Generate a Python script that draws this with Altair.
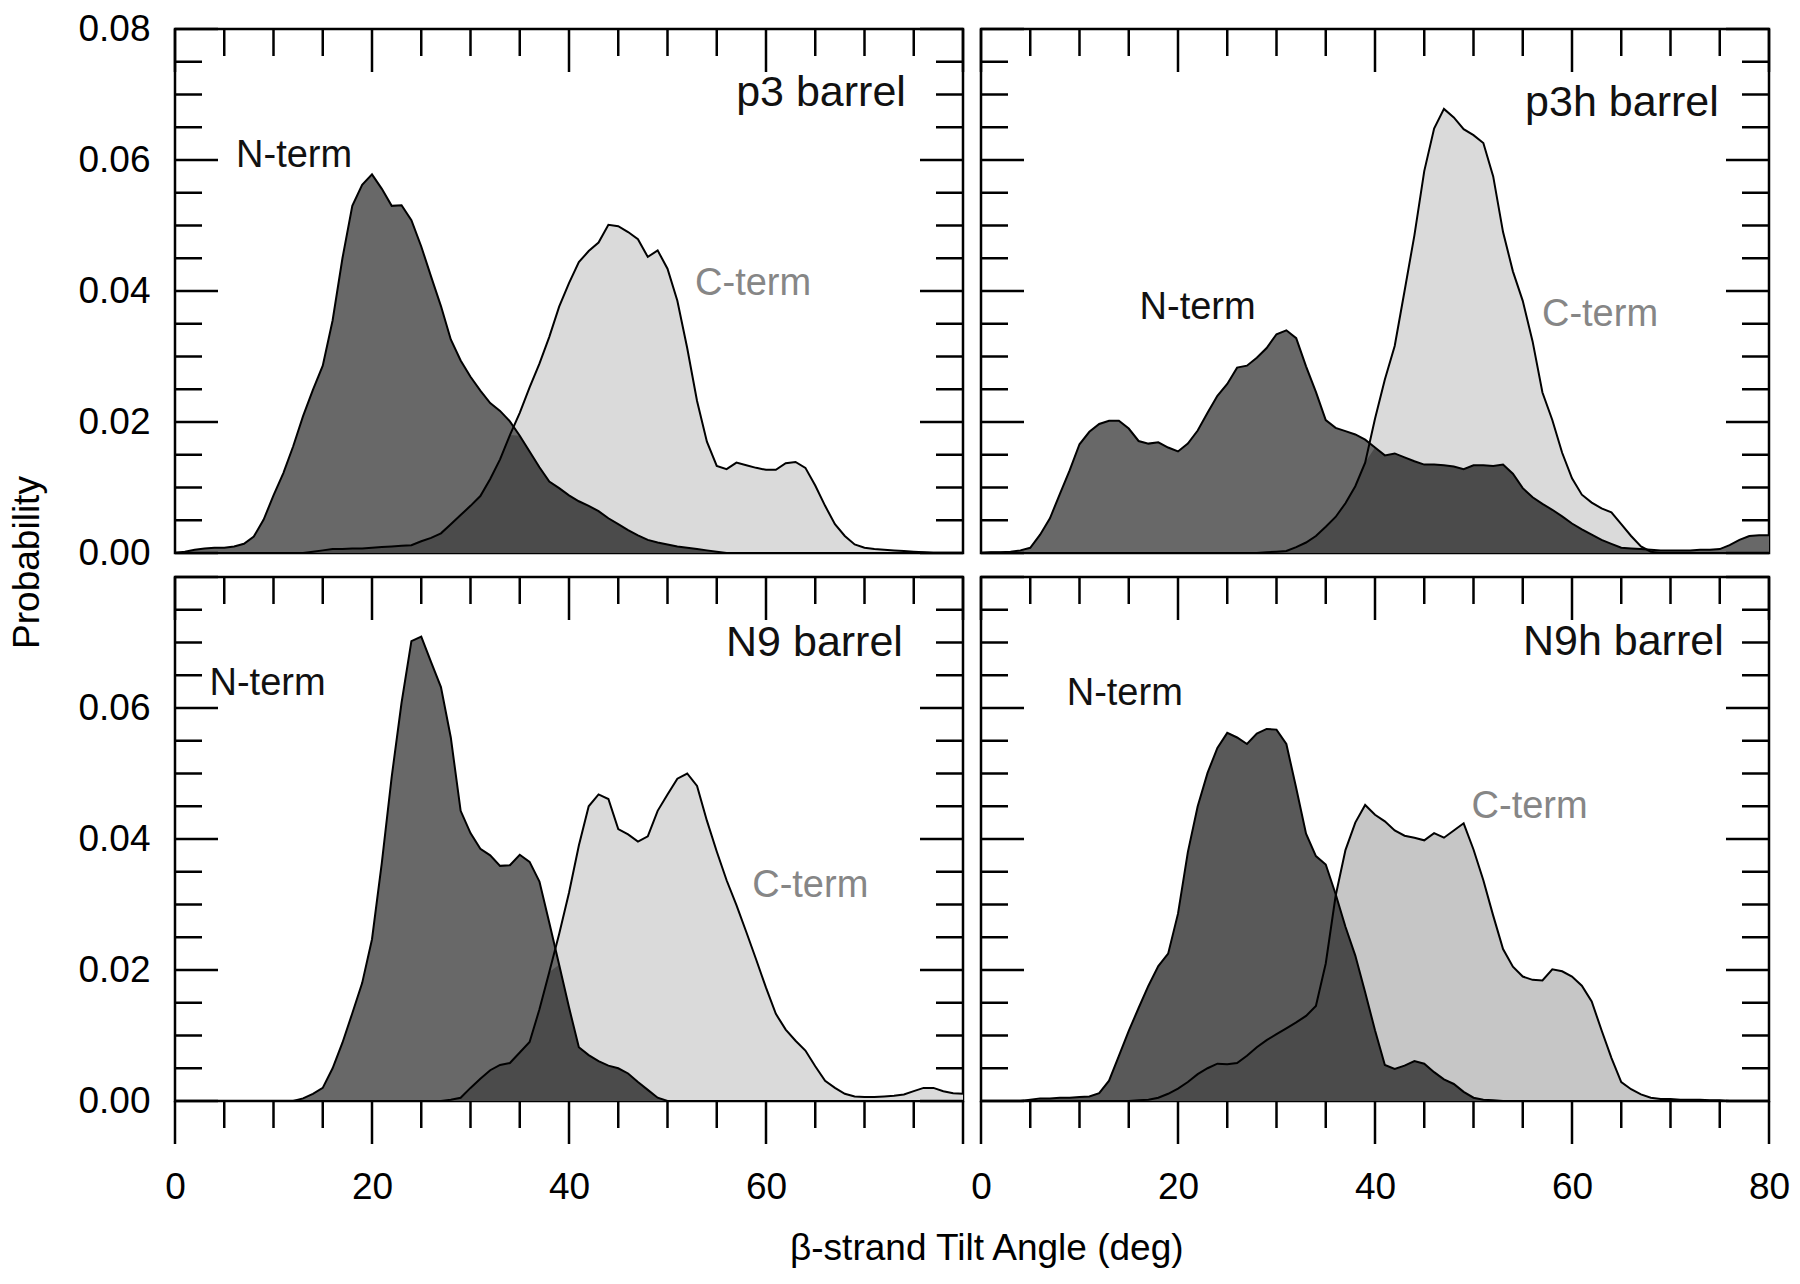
import altair as alt
import pandas as pd

FONT = "Liberation Sans"

# Tilt angle grid (deg), one value per degree
ANGLES = list(range(81))

# ---- p3 barrel ----
P3_N = [0.0000, 0.0002, 0.0005, 0.0007, 0.0008, 0.0008, 0.0010, 0.0014, 0.0025, 0.0051,
        0.0088, 0.0122, 0.0163, 0.0209, 0.0249, 0.0286, 0.0355, 0.0450, 0.0530, 0.0562,
        0.0578, 0.0556, 0.0530, 0.0531, 0.0508, 0.0468, 0.0422, 0.0377, 0.0326, 0.0294,
        0.0269, 0.0248, 0.0229, 0.0217, 0.0201, 0.0179, 0.0155, 0.0131, 0.0109, 0.0099,
        0.0088, 0.0079, 0.0072, 0.0064, 0.0053, 0.0044, 0.0035, 0.0027, 0.0020, 0.0016,
        0.0013, 0.0010, 0.0008, 0.0006, 0.0004, 0.0002, 0.0, 0.0, 0.0, 0.0,
        0.0, 0.0, 0.0, 0.0, 0.0, 0.0, 0.0, 0.0, 0.0, 0.0,
        0.0, 0.0, 0.0, 0.0, 0.0, 0.0, 0.0, 0.0, 0.0, 0.0,
        0.0]
P3_C = [0.0, 0.0, 0.0, 0.0, 0.0, 0.0, 0.0, 0.0, 0.0, 0.0,
        0.0, 0.0, 0.0, 0.0, 0.0002, 0.0004, 0.0006, 0.0006, 0.0007, 0.0007,
        0.0008, 0.0009, 0.0010, 0.0011, 0.0012, 0.0018, 0.0023, 0.0030, 0.0044, 0.0058,
        0.0072, 0.0087, 0.0113, 0.0143, 0.0180, 0.0214, 0.0253, 0.0289, 0.0330, 0.0376,
        0.0412, 0.0444, 0.0461, 0.0474, 0.0501, 0.0499, 0.0490, 0.0479, 0.0452, 0.0462,
        0.0434, 0.0385, 0.0313, 0.0232, 0.0170, 0.0133, 0.0128, 0.0138, 0.0134, 0.0130,
        0.0127, 0.0127, 0.0137, 0.0139, 0.0130, 0.0103, 0.0072, 0.0044, 0.0026, 0.0013,
        0.0008, 0.0006, 0.0005, 0.0004, 0.0003, 0.0002, 0.0001, 0.0, 0.0, 0.0,
        0.0]

# ---- p3h barrel ----
P3H_N = [0.0000, 0.0001, 0.0001, 0.0002, 0.0004, 0.0008, 0.0028, 0.0053, 0.0090, 0.0126,
         0.0166, 0.0185, 0.0197, 0.0202, 0.0202, 0.0190, 0.0171, 0.0167, 0.0169, 0.0161,
         0.0155, 0.0167, 0.0187, 0.0214, 0.0240, 0.0258, 0.0283, 0.0286, 0.0298, 0.0313,
         0.0334, 0.0340, 0.0328, 0.0285, 0.0246, 0.0203, 0.0191, 0.0186, 0.0181, 0.0173,
         0.0161, 0.0149, 0.0152, 0.0146, 0.0140, 0.0135, 0.0135, 0.0134, 0.0132, 0.0128,
         0.0134, 0.0134, 0.0133, 0.0135, 0.0121, 0.0099, 0.0085, 0.0075, 0.0066, 0.0056,
         0.0045, 0.0036, 0.0028, 0.0020, 0.0014, 0.0008, 0.0007, 0.0006, 0.0005, 0.0004,
         0.0004, 0.0004, 0.0004, 0.0005, 0.0005, 0.0006, 0.0012, 0.0020, 0.0026, 0.0027,
         0.0027]
P3H_C = [0.0, 0.0, 0.0, 0.0, 0.0, 0.0, 0.0, 0.0, 0.0, 0.0,
         0.0, 0.0, 0.0, 0.0, 0.0, 0.0, 0.0, 0.0, 0.0, 0.0,
         0.0, 0.0, 0.0, 0.0, 0.0, 0.0, 0.0, 0.0, 0.0, 0.0001,
         0.0002, 0.0003, 0.0009, 0.0016, 0.0026, 0.0040, 0.0055, 0.0076, 0.0102, 0.0138,
         0.0205, 0.0265, 0.0316, 0.0400, 0.0485, 0.0583, 0.0648, 0.0678, 0.0665, 0.0647,
         0.0638, 0.0626, 0.0575, 0.0490, 0.0430, 0.0385, 0.0323, 0.0245, 0.0203, 0.0153,
         0.0114, 0.0089, 0.0077, 0.0068, 0.0062, 0.0044, 0.0026, 0.0010, 0.0002, 0.0,
         0.0, 0.0, 0.0, 0.0, 0.0, 0.0, 0.0, 0.0, 0.0, 0.0,
         0.0]

# ---- N9 barrel ----
N9_N = [0.0, 0.0, 0.0, 0.0, 0.0, 0.0, 0.0, 0.0, 0.0, 0.0,
        0.0, 0.0, 0.0, 0.0004, 0.0011, 0.0020, 0.0050, 0.0089, 0.0134, 0.0180,
        0.0247, 0.0364, 0.0495, 0.0608, 0.0702, 0.0709, 0.0670, 0.0632, 0.0555, 0.0443,
        0.0409, 0.0385, 0.0375, 0.0359, 0.0360, 0.0376, 0.0365, 0.0335, 0.0272, 0.0208,
        0.0143, 0.0082, 0.0070, 0.0061, 0.0054, 0.0050, 0.0042, 0.0029, 0.0017, 0.0005,
        0.0, 0.0, 0.0, 0.0, 0.0, 0.0, 0.0, 0.0, 0.0, 0.0,
        0.0, 0.0, 0.0, 0.0, 0.0, 0.0, 0.0, 0.0, 0.0, 0.0,
        0.0, 0.0, 0.0, 0.0, 0.0, 0.0, 0.0, 0.0, 0.0, 0.0,
        0.0]
N9_C = [0.0, 0.0, 0.0, 0.0, 0.0, 0.0, 0.0, 0.0, 0.0, 0.0,
        0.0, 0.0, 0.0, 0.0, 0.0, 0.0, 0.0, 0.0, 0.0, 0.0,
        0.0, 0.0, 0.0, 0.0, 0.0, 0.0, 0.0, 0.0, 0.0002, 0.0005,
        0.0020, 0.0034, 0.0047, 0.0055, 0.0058, 0.0074, 0.0090, 0.0140, 0.0197, 0.0255,
        0.0318, 0.0390, 0.0450, 0.0468, 0.0461, 0.0415, 0.0407, 0.0396, 0.0404, 0.0443,
        0.0468, 0.0492, 0.0500, 0.0481, 0.0428, 0.0381, 0.0337, 0.0299, 0.0258, 0.0216,
        0.0173, 0.0133, 0.0109, 0.0092, 0.0077, 0.0053, 0.0031, 0.0020, 0.0011, 0.0007,
        0.0006, 0.0006, 0.0007, 0.0008, 0.0010, 0.0015, 0.0020, 0.0020, 0.0015, 0.0012,
        0.0011]

# ---- N9h barrel ----
N9H_N = [0.0, 0.0, 0.0, 0.0, 0.0, 0.0002, 0.0004, 0.0004, 0.0005, 0.0005,
         0.0006, 0.0007, 0.0012, 0.0031, 0.0069, 0.0107, 0.0142, 0.0176, 0.0206, 0.0225,
         0.0286, 0.0380, 0.0450, 0.0501, 0.0539, 0.0562, 0.0555, 0.0545, 0.0561, 0.0568,
         0.0567, 0.0545, 0.0478, 0.0408, 0.0374, 0.0361, 0.0316, 0.0266, 0.0222, 0.0166,
         0.0108, 0.0055, 0.0049, 0.0054, 0.0061, 0.0057, 0.0044, 0.0033, 0.0026, 0.0014,
         0.0005, 0.0002, 0.0001, 0.0, 0.0, 0.0, 0.0, 0.0, 0.0, 0.0,
         0.0, 0.0, 0.0, 0.0, 0.0, 0.0, 0.0, 0.0, 0.0, 0.0,
         0.0, 0.0, 0.0, 0.0, 0.0, 0.0, 0.0, 0.0, 0.0, 0.0,
         0.0]
N9H_C = [0.0, 0.0, 0.0, 0.0, 0.0, 0.0, 0.0, 0.0, 0.0, 0.0,
         0.0, 0.0, 0.0, 0.0, 0.0, 0.0, 0.0001, 0.0002, 0.0005, 0.0011,
         0.0019, 0.0029, 0.0041, 0.0050, 0.0057, 0.0056, 0.0058, 0.0069, 0.0082, 0.0093,
         0.0102, 0.0111, 0.0120, 0.0130, 0.0145, 0.0210, 0.0313, 0.0383, 0.0425, 0.0452,
         0.0437, 0.0427, 0.0413, 0.0405, 0.0402, 0.0398, 0.0409, 0.0402, 0.0413, 0.0424,
         0.0384, 0.0337, 0.0283, 0.0232, 0.0205, 0.0190, 0.0185, 0.0184, 0.0201, 0.0198,
         0.0190, 0.0176, 0.0152, 0.0108, 0.0066, 0.0029, 0.0018, 0.0010, 0.0005, 0.0003,
         0.0003, 0.0002, 0.0002, 0.0002, 0.0001, 0.0001, 0.0, 0.0, 0.0, 0.0,
         0.0]

# Axis ticks and labels
X_TICKS = [0, 5, 10, 15, 20, 25, 30, 35, 40, 45, 50, 55, 60, 65, 70, 75, 80]
X_MAJOR = [0, 20, 40, 60, 80]
Y_TICKS = [0.0, 0.005, 0.01, 0.015, 0.02, 0.025, 0.03, 0.035, 0.04,
           0.045, 0.05, 0.055, 0.06, 0.065, 0.07, 0.075, 0.08]
Y_MAJOR = [0.0, 0.02, 0.04, 0.06, 0.08]
X_LABELS_LEFT = [0, 20, 40, 60]
X_LABELS_RIGHT = [0, 20, 40, 60, 80]
Y_LABELS_TOP = [0.0, 0.02, 0.04, 0.06, 0.08]
Y_LABELS_BOTTOM = [0.0, 0.02, 0.04, 0.06]

TERM_LABELS = ["N-term", "C-term"]

PANELS = [
    dict(title="p3 barrel", n=P3_N, c=P3_C, tpos=(74.2, 0.0683), npos=(6.2, 0.0590),
         cpos=(52.8, 0.0394), xl=None, yl=Y_LABELS_TOP, right=False, bottom=False,
         nfill="#686868", cfill="#dadada"),
    dict(title="p3h barrel", n=P3H_N, c=P3H_C, tpos=(74.9, 0.0667), npos=(16.1, 0.0358),
         cpos=(56.95, 0.0347), xl=None, yl=None, right=True, bottom=False,
         nfill="#686868", cfill="#dadada"),
    dict(title="N9 barrel", n=N9_N, c=N9_C, tpos=(73.9, 0.0680), npos=(3.5, 0.0620),
         cpos=(58.6, 0.0312), xl=X_LABELS_LEFT, yl=Y_LABELS_BOTTOM, right=False, bottom=True,
         nfill="#686868", cfill="#dadada"),
    dict(title="N9h barrel", n=N9H_N, c=N9H_C, tpos=(75.4, 0.0681), npos=(8.7, 0.0604),
         cpos=(49.8, 0.0432), xl=X_LABELS_RIGHT, yl=None, right=True, bottom=True,
         nfill="#595959", cfill="#c6c6c6"),
]

OVERLAP = "#4b4b4b"
W, H = 788, 524
MAJOR_LEN, MINOR_LEN = 43, 27
TICK_W = 2.5


def panel(p):
    xs = alt.Scale(domain=[0, 80], nice=False, zero=False)
    ys = alt.Scale(domain=[0, 0.08], nice=False, zero=False)
    if p["xl"]:
        xa = alt.Axis(values=p["xl"], ticks=False, domain=False, grid=False, title=None,
                      labelFont=FONT, labelFontSize=37, labelColor="black",
                      labelPadding=68, labelFlush=False, labelOverlap=False, format="d")
    else:
        xa = None
    if p["yl"]:
        ya = alt.Axis(values=p["yl"], ticks=False, domain=False, grid=False, title=None,
                      labelFont=FONT, labelFontSize=37, labelColor="black",
                      labelPadding=25, labelFlush=False, labelOverlap=False, format=".2f")
    else:
        ya = None

    def X(f):
        return alt.X(f"{f}:Q", scale=xs, axis=xa)

    def Y(f):
        return alt.Y(f"{f}:Q", scale=ys, axis=ya)

    df = pd.DataFrame({"angle": ANGLES, "n": p["n"], "c": p["c"]})
    base = alt.Chart(df)
    layers = [
        base.mark_area(color=p["cfill"]).encode(x=X("angle"), y=Y("c")),
        base.mark_area(color=p["nfill"]).encode(x=X("angle"), y=Y("n")),
        base.transform_calculate(ov="min(datum.n, datum.c)")
            .mark_area(color=OVERLAP).encode(x=X("angle"), y=Y("ov")),
        base.mark_line(color="black", strokeWidth=2).encode(x=X("angle"), y=Y("n")),
        base.mark_line(color="black", strokeWidth=2).encode(x=X("angle"), y=Y("c")),
    ]

    for vals_x, vals_y, L in (
        (X_MAJOR, Y_MAJOR, MAJOR_LEN),
        ([t for t in X_TICKS if t not in X_MAJOR],
         [t for t in Y_TICKS if all(abs(t - m) > 1e-9 for m in Y_MAJOR)], MINOR_LEN),
    ):
        xt = alt.Chart(pd.DataFrame({"t": vals_x}))
        yt = alt.Chart(pd.DataFrame({"t": vals_y}))
        rule = dict(color="black", strokeWidth=TICK_W)
        layers.append(xt.mark_rule(**rule).encode(x=X("t"), y=alt.value(0), y2=alt.value(L)))
        layers.append(yt.mark_rule(**rule).encode(y=Y("t"), x=alt.value(0), x2=alt.value(L)))
        layers.append(yt.mark_rule(**rule).encode(y=Y("t"), x=alt.value(W - L), x2=alt.value(W)))
        if p["bottom"]:
            layers.append(xt.mark_rule(**rule).encode(x=X("t"), y=alt.value(H),
                                                      y2=alt.value(H + L)))

    ann = pd.DataFrame({
        "x": [p["npos"][0], p["cpos"][0]],
        "y": [p["npos"][1], p["cpos"][1]],
        "label": TERM_LABELS,
        "col": ["#111111", "#868686"],
    })
    layers.append(
        alt.Chart(ann).mark_text(align="left", baseline="alphabetic", font=FONT, fontSize=38)
        .encode(x=X("x"), y=Y("y"), text="label:N", color=alt.Color("col:N", scale=None))
    )
    ttl = pd.DataFrame({"x": [p["tpos"][0]], "y": [p["tpos"][1]], "label": [p["title"]]})
    layers.append(
        alt.Chart(ttl).mark_text(align="right", baseline="alphabetic", font=FONT,
                                 fontSize=43, color="#111111")
        .encode(x=X("x"), y=Y("y"), text="label:N")
    )
    return alt.layer(*layers).properties(width=W, height=H)


grid = alt.concat(
    *[panel(p) for p in PANELS],
    columns=2,
    spacing={"row": 24, "column": 18},
    bounds="flush",
    title=alt.TitleParams("Probability", orient="left", anchor="middle", font=FONT,
                          fontSize=37, fontWeight="normal", color="black", offset=30,
                          dx=45),
)

chart = alt.vconcat(
    grid,
    title=alt.TitleParams("β-strand Tilt Angle (deg)", orient="bottom", anchor="middle",
                          font=FONT, fontSize=37, fontWeight="normal", color="black",
                          offset=25, dx=87),
).configure_view(stroke="black", strokeWidth=2.5).properties(padding=0, background="white")

chart.save("out.html", embed_options={"renderer": "svg", "actions": False})
